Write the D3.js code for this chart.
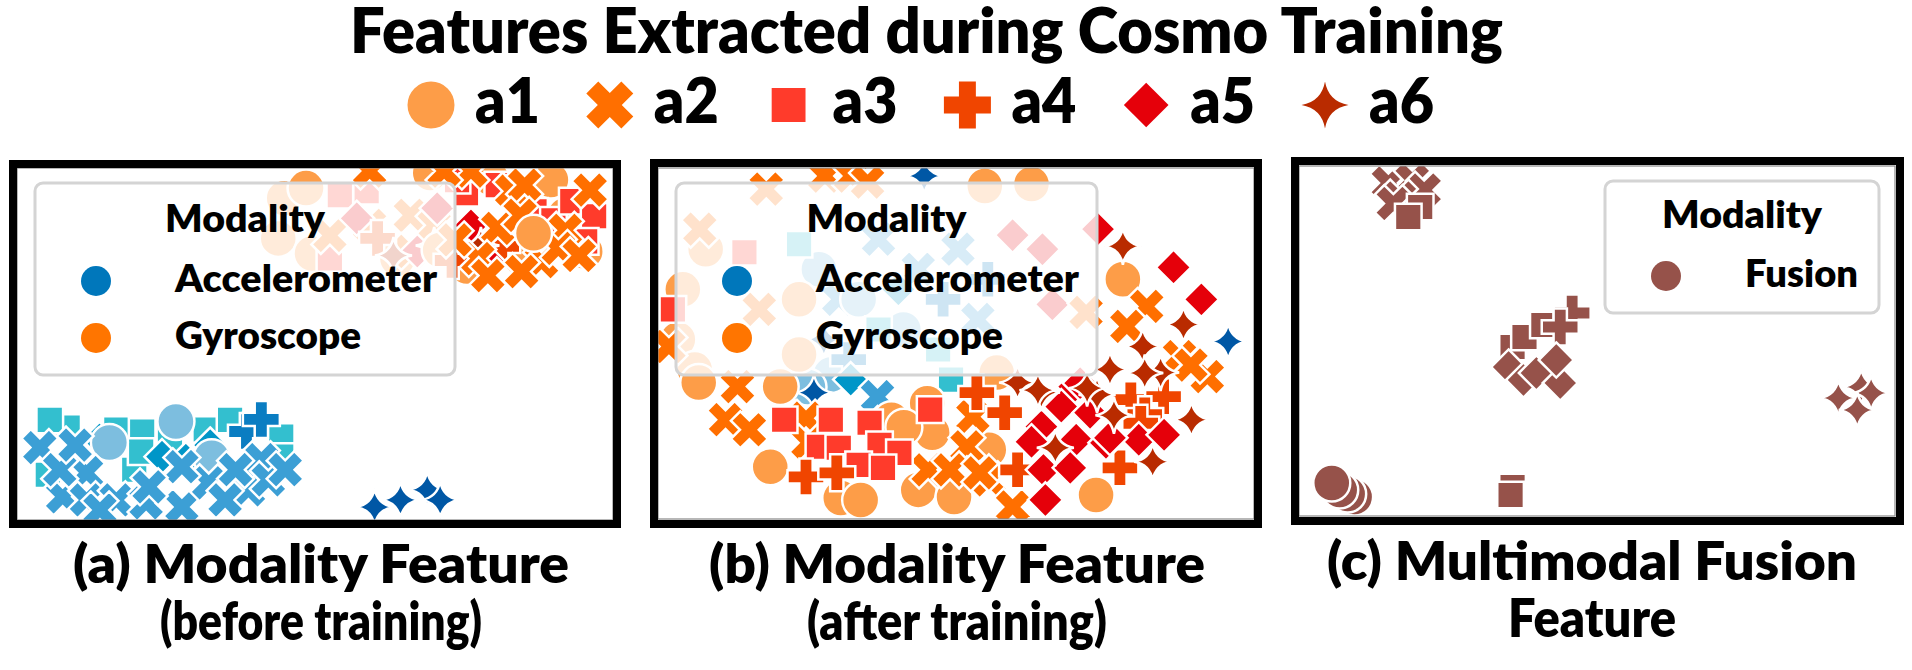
<!DOCTYPE html>
<html lang="en">
<head>
<meta charset="UTF-8">
<title>Features Extracted during Cosmo Training</title>
<script src="https://cdnjs.cloudflare.com/ajax/libs/d3/7.8.5/d3.min.js"></script>
<style>
  body { margin: 0; background: #fff; }
  text { font-family: Lato, "Open Sans", sans-serif; font-weight: 800; fill: #000; }
</style>
</head>
<body>
<div id="chart"></div>
<script>
// activity classes and the marker used for each
const activities = ["a1", "a2", "a3", "a4", "a5", "a6"];
const shapes = ["circle", "x", "square", "plus", "diamond", "star"];
const gyroColors = ["#fd9d48", "#ff6f00", "#ff3b2b", "#f04500", "#e5000a", "#b92b00"];
const accColors = ["#7dbedf", "#3c9fd5", "#33bfcf", "#0a7dc2", "#0096c8", "#0057a5"];
const fusionColor = "#96524a";
const modalityColors = { Accelerometer: "#0077bb", Gyroscope: "#ff7500", Fusion: fusionColor };

// t-SNE coordinates: [x, y, activity]
const beforeAcc = [
  [10.2, 18.4, "a3"], [20, 18, "a3"], [25.2, 17.6, "a3"], [38, 18, "a3"], [53.2, 16.6, "a3"],
  [53.2, 12.6, "a3"], [23.6, 10, "a3"], [6.2, 9, "a3"], [25, 13.6, "a3"], [6.6, 19.9, "a3"],
  [42.9, 19.9, "a3"], [30.8, 15.9, "a3"],
  [16.6, 16, "a5"], [29.2, 12.6, "a5"], [34, 12, "a5"], [38.9, 14.9, "a5"],
  [46.2, 17.6, "a4"], [49.2, 20, "a4"],
  [18.6, 15.4, "a1"], [32, 19.6, "a1"], [39.2, 12.4, "a1"],
  [4.6, 14.4, "a2"], [14, 9.4, "a2"], [9.2, 4.6, "a2"], [14, 4, "a2"], [20, 4, "a2"],
  [26, 3.4, "a2"], [33.2, 2.6, "a2"], [38.6, 7.4, "a2"], [46.6, 6, "a2"], [49.2, 12, "a2"],
  [33.2, 10.6, "a2"], [26.6, 6.6, "a2"], [44, 10, "a2"], [50.6, 8, "a2"], [8.6, 10, "a2"],
  [11.7, 14.9, "a2"], [41.9, 4, "a2"], [16.7, 2, "a2"], [54, 10, "a2"],
  [72, 2.6, "a6"], [77.2, 4, "a6"], [82.6, 6, "a6"], [85.2, 4, "a6"]
];
const beforeGyro = [
  [53.8, 64, "a1"], [52.6, 56, "a1"], [59.4, 53, "a1"], [58.2, 66, "a1"], [76.6, 52, "a1"],
  [65, 64.6, "a3"], [70.4, 65.4, "a3"], [63, 52, "a3"],
  [63, 56.6, "a2"], [71, 58.6, "a2"], [79.2, 60.6, "a2"], [79.2, 53.4, "a2"], [84, 58.6, "a2"],
  [68.4, 60, "a5"], [84.6, 62, "a5"], [80.6, 53.4, "a5"],
  [72.6, 56, "a4"], [75.8, 52.6, "a6"], [84, 54.6, "a6"],
  [83.2, 69, "a1"], [95.4, 68, "a1"], [110.4, 60.6, "a1"], [114.4, 53.4, "a1"], [101.6, 52, "a1"],
  [90.6, 50.4, "a1"], [107.5, 67.6, "a1"], [85.2, 53.7, "a1"],
  [90.4, 65, "a3"], [88.6, 67.6, "a3"], [104.2, 61.4, "a3"], [108, 59.6, "a3"], [111.8, 63.4, "a3"],
  [116.2, 60.4, "a3"], [114.4, 55.4, "a3"], [96.8, 66.6, "a3"],
  [97.6, 54.4, "a4"], [87.6, 51.6, "a4"],
  [91.4, 58.6, "a5"], [94.8, 51.4, "a5"], [93.4, 54.6, "a6"],
  [96.8, 58, "a2"], [99.6, 65.4, "a2"], [102.2, 66.6, "a2"], [110.4, 57.6, "a2"], [91.4, 69.4, "a2"],
  [86, 69.4, "a2"], [71, 69.4, "a2"], [105.6, 51.4, "a2"], [101.6, 49.4, "a2"], [92.8, 52, "a2"],
  [94.8, 48.6, "a2"], [109, 54, "a2"], [113.2, 52.6, "a2"], [115.4, 65.6, "a2"], [101.3, 60.6, "a2"],
  [88.2, 55.7, "a2"],
  [104, 57, "a1"]
];
const afterAcc = [
  [44.4, 55.8, "a2"], [52.4, 49.8, "a2"], [36.4, 43.8, "a2"], [64.4, 39.8, "a2"], [60.4, 53.8, "a2"],
  [40.4, 43.8, "a1"], [32.4, 49.8, "a1"], [49.4, 37.8, "a1"], [34.8, 28.8, "a1"], [30.2, 26.3, "a1"],
  [44.4, 37.8, "a3"], [56.4, 33.8, "a3"], [28.4, 54.8, "a3"], [59, 27.8, "a3"],
  [57.4, 43.8, "a4"], [66.4, 47.8, "a4"], [38.4, 31.8, "a4"],
  [48.4, 45.8, "a5"], [38.8, 27.8, "a5"],
  [33.4, 35.8, "a6"], [53.6, 68.4, "a6"], [114.8, 35.4, "a6"], [31.4, 25.2, "a6"],
  [44.2, 24.4, "a2"]
];
const afterGyro = [
  [5, 45.8, "a1"], [9.6, 53.8, "a1"], [4, 35.8, "a1"], [28.4, 43.8, "a1"], [7.4, 29.8, "a1"], [28.4, 32.8, "a1"],
  [21.8, 65.8, "a2"], [20.4, 41.8, "a2"], [8.4, 57.8, "a2"],
  [17.4, 53.2, "a3"], [3, 41.8, "a3"],
  [79.4, 42.8, "a5"], [77.4, 53.8, "a5"], [71.4, 56.6, "a5"],
  [65.8, 66.4, "a1"], [75.2, 66.8, "a1"], [93.6, 47.8, "a1"], [88.2, 4.8, "a1"], [8.2, 27.2, "a1"],
  [24.6, 26.4, "a1"], [68.2, 29.2, "a1"], [47, 19.8, "a1"], [55.2, 17.2, "a1"], [66.6, 13.8, "a1"],
  [22.6, 10.4, "a1"], [36.8, 4.2, "a1"], [40.8, 3.8, "a1"], [52.4, 5.8, "a1"], [59.6, 4.4, "a1"],
  [54.2, 23.1, "a1"], [49.5, 18.3, "a1"],
  [33.6, 68.4, "a2"], [38.8, 68.4, "a2"], [42.2, 67.2, "a2"], [98.4, 42.4, "a2"], [94.4, 38.4, "a2"],
  [105, 32.4, "a2"], [110.6, 28.4, "a2"], [86.2, 41.2, "a2"], [16, 26.4, "a2"], [13.6, 19.8, "a2"],
  [18.4, 17.8, "a2"], [63.4, 20.4, "a2"], [62.2, 14.4, "a2"], [54.4, 9.8, "a2"], [66.6, 7.8, "a2"],
  [71.4, 2.4, "a2"], [2.2, 34.4, "a2"], [29.8, 20.1, "a2"], [30.2, 15.2, "a2"], [58.8, 9.8, "a2"],
  [64.8, 9.2, "a2"], [107.3, 30.7, "a2"],
  [54.8, 21.8, "a3"], [25.4, 19.8, "a3"], [34.8, 19.8, "a3"], [42.6, 19.2, "a3"], [32.4, 14.4, "a3"],
  [36.4, 14.2, "a3"], [44.6, 14.8, "a3"], [48.6, 13.2, "a3"], [40.4, 10.8, "a3"], [45.3, 10.2, "a3"],
  [64.2, 25.2, "a4"], [69.8, 21.2, "a4"], [95.2, 23.8, "a4"], [101.8, 24.4, "a4"], [92.8, 10.4, "a4"],
  [29.8, 8.4, "a4"], [36, 9.2, "a4"], [72.4, 9.8, "a4"], [98, 20.8, "a4"], [97.2, 19.1, "a4"], [93, 10.2, "a4"],
  [88.6, 57.8, "a5"], [103.8, 50.2, "a5"], [109.4, 43.8, "a5"], [83.8, 26.4, "a5"], [81.2, 22.4, "a5"],
  [87, 21.2, "a5"], [77.2, 18.4, "a5"], [75.2, 15.4, "a5"], [84.2, 15.8, "a5"], [90.2, 15.2, "a5"],
  [96.8, 15.8, "a5"], [77.6, 9.8, "a5"], [83, 10.2, "a5"], [78, 3.8, "a5"], [91, 16.2, "a5"],
  [101.9, 16.8, "a5"], [85, 27.1, "a5"],
  [93.6, 54.4, "a6"], [105.8, 38.8, "a6"], [97.6, 34.4, "a6"], [101.2, 29.2, "a6"], [107.4, 19.8, "a6"],
  [99.6, 11.4, "a6"], [91, 29.8, "a6"], [72.4, 27.2, "a6"], [77.2, 25.2, "a6"], [88.4, 24.8, "a6"],
  [80, 14.2, "a6"], [76.5, 25.7, "a6"], [86.4, 26.1, "a6"], [91.8, 20.7, "a6"], [98, 29.1, "a6"]
];
const fusion = [
  [18, 66.6, "a2"], [22.8, 67.2, "a2"], [25.2, 65.2, "a2"], [20.2, 63.6, "a2"], [19, 62.5, "a2"],
  [24.4, 61.8, "a3"], [22, 59.8, "a3"],
  [43, 33.8, "a3"], [45.4, 35.8, "a3"], [49.2, 38.2, "a3"],
  [55, 40.6, "a4"], [52.6, 37.8, "a4"],
  [42.2, 29.8, "a5"], [45.2, 27.2, "a5"], [47.8, 28.6, "a5"], [52.6, 26.6, "a5"], [51.8, 31.2, "a5"],
  [108.6, 23.6, "a6"], [113.2, 25.8, "a6"], [115.2, 24.6, "a6"], [112.4, 21.2, "a6"],
  [11.2, 3.8, "a1"], [9.8, 4.4, "a1"], [8.2, 5.2, "a1"], [6.6, 6.6, "a1"],
  [43, 5.8, "a3"], [42.6, 4.2, "a3"]
];
const xDomain = [0, 120];
const yDomain = [0, 70];

const width = 1912, height = 670;
const svg = d3.select("#chart").append("svg")
  .attr("width", width).attr("height", height);

// filled marker outlines, s = box size
function markerPath(shape, s) {
  const h = s / 2;
  const poly = pts => "M" + pts.map(p => p[0].toFixed(2) + "," + p[1].toFixed(2)).join("L") + "Z";
  const t = s * 0.18;
  const plusPts = L => [[-t, -L], [t, -L], [t, -t], [L, -t], [L, t], [t, t], [t, L], [-t, L], [-t, t], [-L, t], [-L, -t], [-t, -t]];
  if (shape === "circle") return `M${h},0A${h},${h} 0 1,1 ${-h},0A${h},${h} 0 1,1 ${h},0Z`;
  if (shape === "square") { const q = s * 0.36; return poly([[-q, -q], [q, -q], [q, q], [-q, q]]); }
  if (shape === "plus") return poly(plusPts(h));
  if (shape === "x") {
    const L = h * Math.SQRT2 - t, c = Math.SQRT1_2;
    return poly(plusPts(L).map(([x, y]) => [(x - y) * c, (x + y) * c]));
  }
  if (shape === "diamond") { const d = h * 0.95; return poly([[0, -d], [d, 0], [0, d], [-d, 0]]); }
  const c = h * 0.15; // four-point star
  return `M0,${-h}Q${c},${-c} ${h},0Q${c},${c} 0,${h}Q${-c},${c} ${-h},0Q${-c},${-c} 0,${-h}Z`;
}

// title
svg.append("text").attr("x", 350).attr("y", 53)
  .attr("font-size", 62).attr("textLength", 1153).attr("lengthAdjust", "spacingAndGlyphs")
  .text("Features Extracted during Cosmo Training");

// activity legend row
const topLegend = svg.append("g");
activities.forEach((a, i) => {
  const cx = 431 + i * 178.8;
  topLegend.append("path")
    .attr("d", markerPath(shapes[i], 47))
    .attr("transform", `translate(${cx},105)`)
    .attr("fill", gyroColors[i]);
  topLegend.append("text").attr("x", cx + 44).attr("y", 123)
    .attr("font-size", 63).attr("textLength", 65).attr("lengthAdjust", "spacingAndGlyphs")
    .text(a);
});

const panels = [
  { id: "a", frame: [13, 164, 604, 360], plot: [17, 168, 613, 520],
    series: [[beforeAcc, accColors], [beforeGyro, gyroColors]],
    legend: { box: [35, 183, 420, 192], items: ["Accelerometer", "Gyroscope"], lens: [262, 186] },
    caption: [321, ["(a) Modality Feature", "(before training)"], [496, 322], 0] },
  { id: "b", frame: [654, 163, 604, 361], plot: [658, 168, 1254, 519],
    series: [[afterAcc, accColors], [afterGyro, gyroColors]],
    legend: { box: [676, 183, 421, 192], items: ["Accelerometer", "Gyroscope"], lens: [263, 187] },
    caption: [957, ["(b) Modality Feature", "(after training)"], [496, 300], 0] },
  { id: "c", frame: [1295, 161, 605, 360], plot: [1299, 166, 1895, 516],
    series: [[fusion, activities.map(() => fusionColor)]],
    legend: { box: [1605, 181, 274, 132], items: ["Fusion"], lens: [113] },
    caption: [1592, ["(c) Multimodal Fusion", "Feature"], [530, 168], -3] }
];

panels.forEach(p => {
  const [l, t, r, b] = p.plot;
  const x = d3.scaleLinear().domain(xDomain).range([l, r]);
  const y = d3.scaleLinear().domain(yDomain).range([b, t]);

  svg.append("clipPath").attr("id", "clip-" + p.id)
    .append("rect").attr("x", l).attr("y", t).attr("width", r - l).attr("height", b - t);

  const g = svg.append("g").attr("clip-path", `url(#clip-${p.id})`);
  p.series.forEach(([pts, colors]) => {
    g.selectAll(null).data(pts).enter().append("path")
      .attr("d", d => markerPath(shapes[activities.indexOf(d[2])], 37))
      .attr("transform", d => `translate(${x(d[0])},${y(d[1])})`)
      .attr("fill", d => colors[activities.indexOf(d[2])])
      .attr("stroke", "#fff").attr("stroke-width", 2.5);
  });

  // legend box
  const lg = p.legend, [bx, by, bw, bh] = lg.box;
  svg.append("rect").attr("x", bx).attr("y", by).attr("width", bw).attr("height", bh)
    .attr("rx", 8).attr("fill", "#fff").attr("fill-opacity", 0.8)
    .attr("stroke", "#d4d4d4").attr("stroke-width", 3);
  svg.append("text").attr("x", bx + bw / 2).attr("y", by + (lg.items.length > 1 ? 49 : 47))
    .attr("text-anchor", "middle").attr("font-size", 38)
    .attr("textLength", 160).attr("lengthAdjust", "spacingAndGlyphs").text("Modality");
  lg.items.forEach((name, i) => {
    const base = by + (lg.items.length > 1 ? 109 : 106) + i * 57;
    svg.append("circle").attr("cx", bx + 61).attr("cy", base - 11).attr("r", 15)
      .attr("fill", modalityColors[name]);
    svg.append("text").attr("x", bx + 140).attr("y", base).attr("font-size", 38)
      .attr("textLength", lg.lens[i]).attr("lengthAdjust", "spacingAndGlyphs").text(name);
  });

  // frame
  const [fx, fy, fw, fh] = p.frame;
  svg.append("rect").attr("x", l).attr("y", t).attr("width", r - l).attr("height", b - t)
    .attr("fill", "none").attr("stroke", "#888").attr("stroke-width", 1.2);
  svg.append("rect").attr("x", fx).attr("y", fy).attr("width", fw).attr("height", fh)
    .attr("fill", "none").attr("stroke", "#000").attr("stroke-width", 8);

  // caption
  const [cx, lines, lens, dy] = p.caption;
  lines.forEach((txt, i) => {
    svg.append("text").attr("x", cx).attr("y", 583 + i * 57 + dy)
      .attr("text-anchor", "middle").attr("font-size", 53)
      .attr("textLength", lens[i]).attr("lengthAdjust", "spacingAndGlyphs").text(txt);
  });
});
</script>
</body>
</html>
